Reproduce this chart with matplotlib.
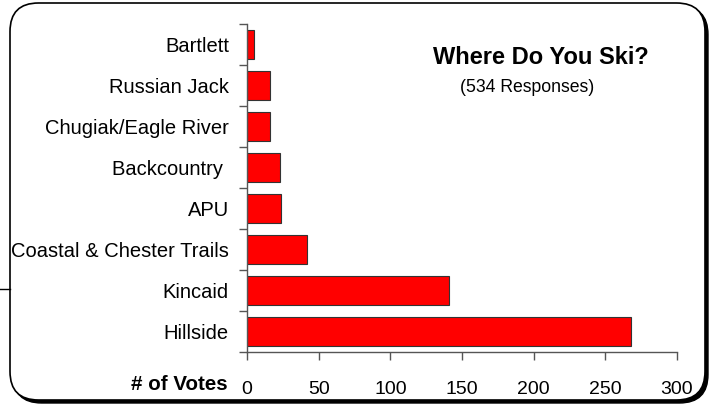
import numpy as np
import matplotlib.pyplot as plt
from matplotlib.patches import FancyBboxPatch
from matplotlib.lines import Line2D

plt.rcParams['font.family'] = ['Liberation Sans', 'DejaVu Sans']

# data, top to bottom
places = ['Bartlett', 'Russian Jack', 'Chugiak/Eagle River', 'Backcountry ',
          'APU', 'Coastal & Chester Trails', 'Kincaid', 'Hillside']
votes = [5, 16, 16, 23, 24, 42, 141, 268]
xticks = [0, 50, 100, 150, 200, 250, 300]

W, H = 713, 404
fig = plt.figure(figsize=(W / 100, H / 100), dpi=100)

# rounded frame with shadow
shadow = FancyBboxPatch((13 / W, 1 / H), 695 / W, 397 / H,
                        boxstyle='round,pad=0,rounding_size=0.04',
                        transform=fig.transFigure, facecolor='black',
                        edgecolor='black', lw=1, zorder=-2,
                        mutation_aspect=W / H)
frame = FancyBboxPatch((10 / W, 4 / H), 695 / W, 397 / H,
                       boxstyle='round,pad=0,rounding_size=0.04',
                       transform=fig.transFigure, facecolor='white',
                       edgecolor='black', lw=1.2, zorder=-1,
                       mutation_aspect=W / H)
fig.patches.append(shadow)
fig.patches.append(frame)
fig.lines.append(Line2D([0, 10 / W], [1 - 289 / H, 1 - 289 / H],
                        transform=fig.transFigure, color='black', lw=1))

ax = fig.add_axes([247 / W, 1 - 352 / H, 430 / W, 328 / H])
ax.set_facecolor('none')
y = np.arange(len(places))
ax.barh(y, votes, height=0.73, color='#ff0000', edgecolor='#333333', lw=0.8)

ax.set_xlim(0, 300)
ax.set_ylim(len(places) - 0.5, -0.5)
ax.set_xticks(xticks)
ax.set_xticklabels([str(t) for t in xticks], fontsize=14)
ax.tick_params(axis='x', direction='out', length=6, width=1, color='#555555',
               pad=15)

ax.set_yticks(np.arange(len(places) + 1) - 0.5)
ax.set_yticklabels([])
ax.tick_params(axis='y', which='major', direction='out', length=6, width=1,
               color='#555555')
ax.set_yticks(y, minor=True)
ax.set_yticklabels(places, minor=True, fontsize=14.5)
ax.tick_params(axis='y', which='minor', length=0, pad=13)

for s in ['top', 'right']:
    ax.spines[s].set_visible(False)
for s in ['left', 'bottom']:
    ax.spines[s].set_color('#555555')
    ax.spines[s].set_linewidth(1)

fig.text(541 / W, 1 - 58 / H, 'Where Do You Ski?', fontsize=17,
         fontweight='bold', ha='center', va='center')
fig.text(527 / W, 1 - 88 / H, '(534 Responses)', fontsize=12.7,
         ha='center', va='center')
fig.text(228 / W, 1 - 385 / H, '# of Votes', fontsize=14.8,
         fontweight='bold', ha='right', va='center')

fig.savefig('out.png', dpi=100)
